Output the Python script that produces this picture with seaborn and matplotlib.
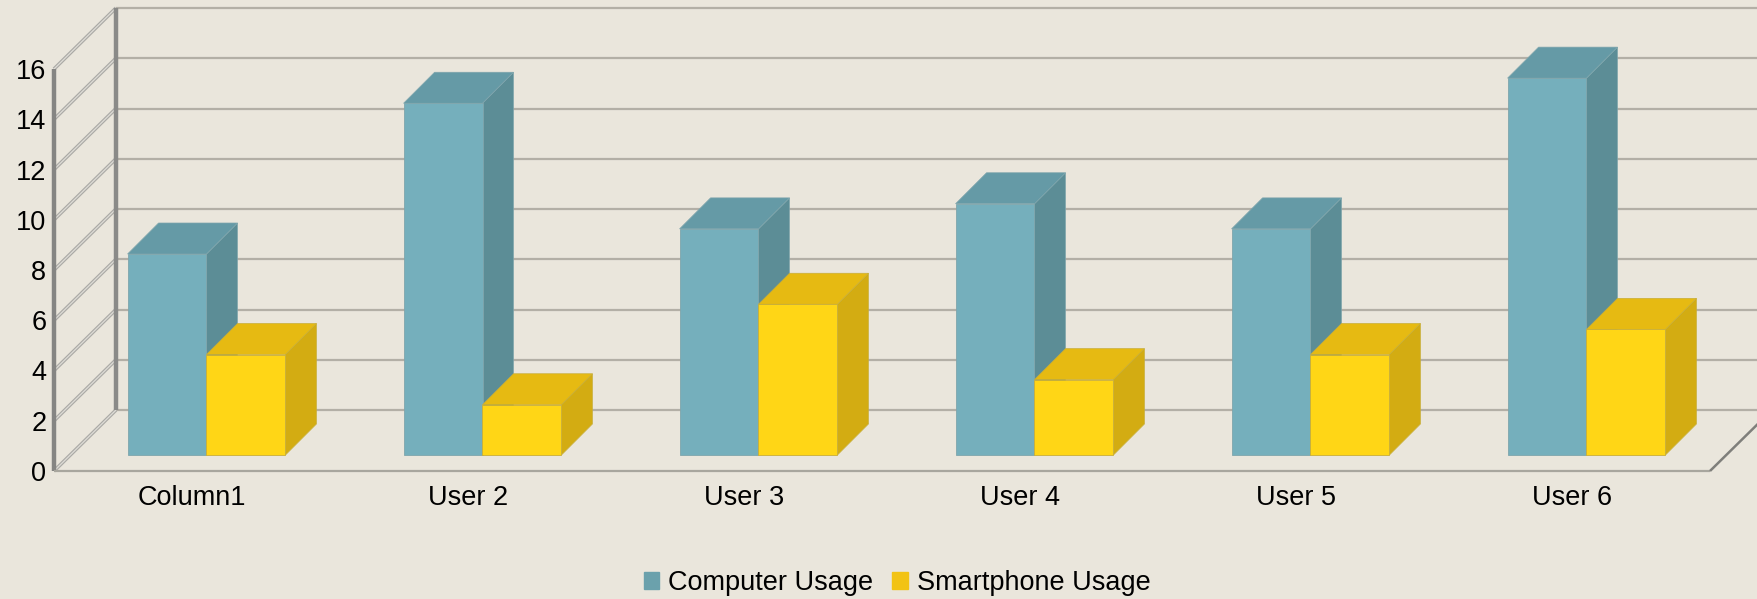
import pandas as pd
import seaborn as sns
import matplotlib.pyplot as plt
from matplotlib.patches import Patch, Polygon

categories = ['Column1', 'User 2', 'User 3', 'User 4', 'User 5', 'User 6']
computer = [8, 14, 9, 10, 9, 15]
smartphone = [4, 2, 6, 3, 4, 5]
series_names = ['Computer Usage', 'Smartphone Usage']
y_ticks = [0, 2, 4, 6, 8, 10, 12, 14, 16]

df = pd.DataFrame({
    'cat': categories * 2,
    'value': computer + smartphone,
    'series': [series_names[0]] * 6 + [series_names[1]] * 6,
})

bg = '#EAE6DC'
grid = '#B3AFA6'
front_cols = ['#75AFBC', '#FFD616']
side_cols = ['#5C8D96', '#D3AC12']
top_cols = ['#659AA6', '#E6BA12']
edge_cols = ['#7FA5AC', '#C8AE3A']
legend_cols = ['#6BA1AC', '#F2C314']

plt.rcParams['font.family'] = ['Liberation Sans', 'DejaVu Sans']

W, H = 1758, 599
fig = plt.figure(figsize=(W / 100, H / 100), dpi=100, facecolor=bg)
# front plane of the fake 3D box
ax = fig.add_axes([54 / W, (H - 471) / H, 1656 / W, 402 / H])
ax.set_facecolor('none')

sns.barplot(data=df, x='cat', y='value', hue='series', palette=front_cols,
            saturation=1, width=0.572, gap=0, legend=False, ax=ax, zorder=3)
ax.set_xlim(-0.5, 5.5)
ax.set_ylim(0, 16)

# pixels to data units
px_x = 1 / 276
px_y = 16 / 402

# walls
back_x = 62 * px_x
back_y = 61 * px_y
for v in y_ticks:
    ax.plot([-0.5 + back_x, 5.5 + back_x], [v + back_y] * 2, color=grid, lw=1.6,
            clip_on=False, zorder=1, solid_capstyle='butt')
    ax.plot([-0.5, -0.5 + back_x], [v, v + back_y], color='#ABAAA6', lw=2.6,
            clip_on=False, zorder=1, solid_capstyle='butt')
    ax.plot([-0.5, -0.5 + back_x], [v, v + back_y], color='#DEDCD6', lw=0.9,
            clip_on=False, zorder=1, solid_capstyle='butt')
ax.plot([-0.5 + back_x] * 2, [back_y, 16 + back_y], color='#8A8A88', lw=3.2,
        clip_on=False, zorder=2, solid_capstyle='butt')
ax.plot([-0.5, -0.5], [0, 16], color='#858583', lw=3.2, clip_on=False, zorder=2,
        solid_capstyle='butt')
ax.plot([-0.5, 5.5], [0, 0], color='#A8A69E', lw=1.6, clip_on=False, zorder=2,
        solid_capstyle='butt')
ax.plot([5.5, 5.5 + back_x], [0, back_y], color='#7F7F7B', lw=1.8, clip_on=False,
        zorder=2, solid_capstyle='butt')

# bars sit a bit behind the front plane, then get their side and top faces
shift_x = 14.5 * px_x
shift_y = 16 * px_y
deep_x = 31 * px_x
deep_y = 31 * px_y
bars = list(ax.patches)
for i, bar in enumerate(bars):
    s = i // 6
    x0 = bar.get_x() + shift_x
    w = bar.get_width()
    h = bar.get_height()
    bar.set_x(x0)
    bar.set_y(shift_y)
    bar.set_edgecolor(edge_cols[s])
    bar.set_linewidth(0.6)
    bar.set_zorder(5 + s * 2)
    bar.set_clip_on(False)
    y0 = shift_y
    y1 = y0 + h
    x1 = x0 + w
    side = Polygon([(x1, y0), (x1 + deep_x, y0 + deep_y), (x1 + deep_x, y1 + deep_y), (x1, y1)],
                   facecolor=side_cols[s], edgecolor=edge_cols[s], lw=0.5, zorder=4 + s * 2,
                   clip_on=False)
    top = Polygon([(x0, y1), (x1, y1), (x1 + deep_x, y1 + deep_y), (x0 + deep_x, y1 + deep_y)],
                  facecolor=top_cols[s], edgecolor=edge_cols[s], lw=0.5, zorder=4 + s * 2,
                  clip_on=False)
    ax.add_patch(side)
    ax.add_patch(top)

for sp in ax.spines.values():
    sp.set_visible(False)
ax.set_xlabel('')
ax.set_ylabel('')
ax.set_yticks(y_ticks)
ax.tick_params(axis='both', length=0, labelsize=19.5, colors='black')
ax.tick_params(axis='y', pad=5.5)
ax.tick_params(axis='x', pad=10)
ax.grid(False)

handles = [Patch(facecolor=c, edgecolor=c) for c in legend_cols]
fig.legend(handles, series_names, loc='center', bbox_to_anchor=(897 / W, (H - 583) / H),
           ncol=2, frameon=False, fontsize=19.5, handlelength=0.58, handleheight=0.58,
           handletextpad=0.32, columnspacing=0.7, borderpad=0)

fig.savefig('out.png', dpi=100, facecolor=bg)
